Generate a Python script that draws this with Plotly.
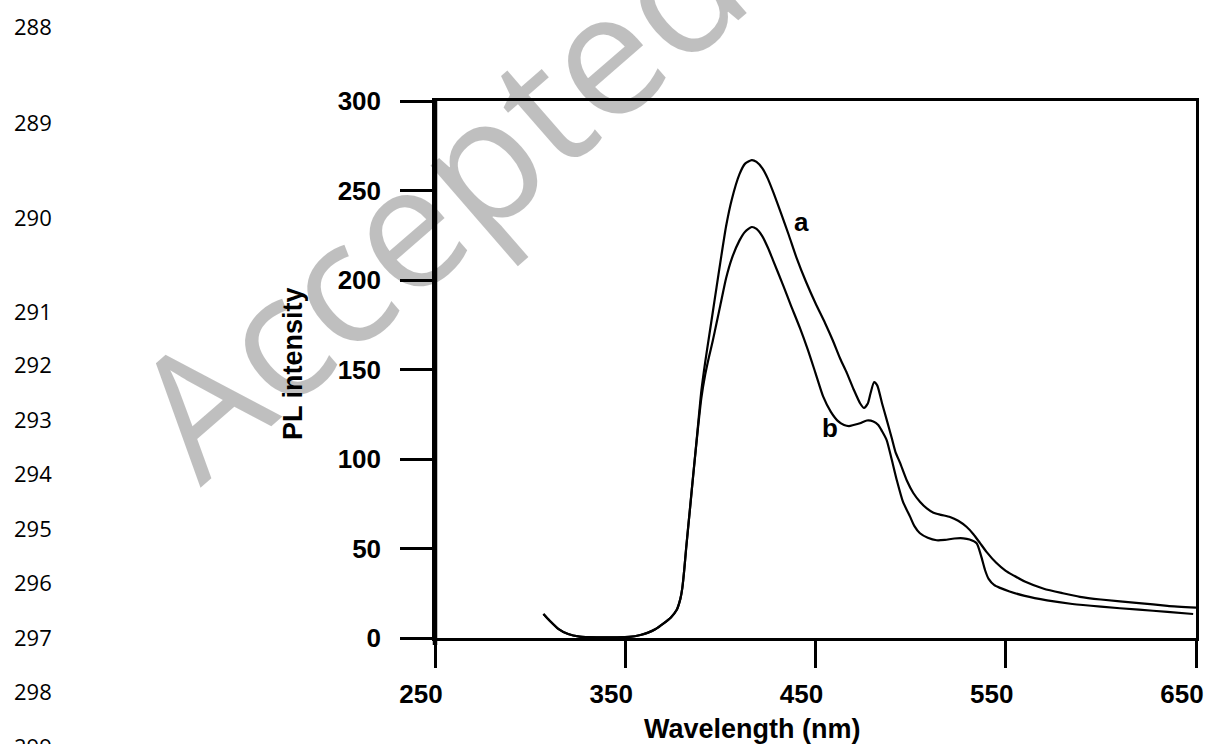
import plotly.graph_objects as go

# ---------------- data ----------------
wl_a = [307, 310, 315, 320, 326, 335, 345, 352, 358, 362, 366, 370, 374, 377, 379, 380, 381, 382, 384, 386, 388,
        390, 392, 394, 396, 398, 400, 403, 406, 410, 413, 416.5, 419, 422, 425, 428, 432, 436, 440, 445, 450,
        455, 459, 463, 466.5, 470, 473.5, 475.5, 477.5, 479, 480.8, 482.5, 485, 487.4, 490, 492, 494.4, 498,
        501.4, 505, 508.5, 512, 516, 520.7, 525, 529.5, 533, 536.5, 540, 545, 550, 554, 560, 570, 580, 589,
        600, 620, 635, 650]
pl_a = [13.4, 10, 5, 2.2, 0.8, 0.4, 0.4, 0.6, 1.7, 3, 5, 8, 11.5, 15.6, 22, 28, 38, 50, 72, 94, 116,
        138, 154, 168, 182, 196, 210, 230, 245, 259, 265, 267, 266, 262.5, 256.5, 248.5, 237, 225, 212.5, 199, 187,
        176, 166.5, 156, 148, 139, 131, 128.5, 131, 137, 143, 141, 131, 122, 112, 104, 98, 88,
        81, 76, 72.4, 70, 68.8, 67.6, 65.5, 62, 58, 53, 48, 42, 37.5, 35, 31.5, 27.5, 25, 23,
        21.5, 19.5, 18, 17]

wl_b = [307, 310, 315, 320, 326, 335, 345, 352, 358, 362, 366, 370, 374, 377, 379, 380, 381, 382, 384, 386, 388,
        390, 392, 394, 396, 398, 400, 403, 406, 410, 413, 416.5, 419, 422, 425, 427.7, 433, 437, 441.9, 446, 450,
        454, 458, 462, 465, 467.6, 470, 473.4, 477, 480.4, 483, 485, 487.4, 490, 492.7, 496, 499.7, 502,
        504.9, 509, 513.7, 518, 523, 527.7, 531, 534.7, 537, 539.1, 541, 544, 547, 552, 560, 571.7, 585,
        600, 620, 635, 648.5]
pl_b = [13.4, 10, 5, 2.2, 0.8, 0.4, 0.4, 0.6, 1.7, 3, 5, 8, 11.5, 15.6, 22, 28, 38, 50, 72, 94, 115,
        134, 147, 157, 166, 176, 186, 201, 212, 222, 227, 229.6, 228.5, 224.5, 218, 211, 197, 186, 173, 161, 148,
        135, 126.5, 121, 119, 118.4, 119, 120, 121.5, 121, 119, 115.5, 110.6, 100, 88.3, 76, 67.8, 62.5,
        58.5, 56, 54.6, 54.8, 55.6, 55.7, 55, 52.9, 46, 38, 33, 29.5, 28, 26, 23.5, 21, 19,
        17.5, 15.8, 14.6, 13.4]

x_ticks = [250, 350, 450, 550, 650]
y_ticks = [0, 50, 100, 150, 200, 250, 300]
curve_labels = ["a", "b"]
curve_label_pos = [(442.9, 232.4), (457.6, 117.3)]
line_numbers = ["288", "289", "290", "291", "292", "293", "294", "295", "296", "297", "298", "299"]
line_number_px = [26, 122, 217, 311, 364, 418.5, 473, 527.5, 582, 636.5, 691, 745.5]

# ---------------- figure ----------------
W, H = 1211, 744
L, R, T, B = 435, 15, 101, 106
pw, ph = W - L - R, H - T - B


def px_x(p):
    return (p - L) / pw


def px_y(p):
    return (H - B - p) / ph


fig = go.Figure()
for wl, pl in ((wl_a, pl_a), (wl_b, pl_b)):
    fig.add_trace(go.Scatter(x=wl, y=pl, mode="lines",
                             line=dict(color="black", width=2.2, shape="spline", smoothing=0.6),
                             showlegend=False, hoverinfo="skip"))

tickfont = dict(family="Liberation Sans, Arial", size=26, color="black", weight="bold")
fig.update_xaxes(range=[250, 650], tickvals=x_ticks, ticks="outside", ticklen=27, tickwidth=2.5,
                 tickcolor="black", showline=True, linewidth=2.5, linecolor="black", mirror=True,
                 showgrid=False, zeroline=False, tickfont=tickfont,
                 ticklabelshift=-14, ticklabelstandoff=4)
fig.update_yaxes(range=[0, 300], tickvals=y_ticks, ticks="outside", ticklen=32, tickwidth=2.5,
                 tickcolor="black", showline=True, linewidth=2.5, linecolor="black", mirror=True,
                 showgrid=False, zeroline=False, tickfont=tickfont, ticklabelstandoff=14)

# thicker left spine
fig.add_shape(type="line", xref="paper", yref="paper", x0=0, x1=0, y0=px_y(645), y1=1,
              line=dict(color="black", width=4.5), layer="above")

ann = []
# watermark
ann.append(dict(text="Accepted", xref="paper", yref="paper", x=px_x(435), y=px_y(195),
                xanchor="center", yanchor="middle", showarrow=False, textangle=-41,
                font=dict(family="Open Sans", size=172, color="rgba(0,0,0,0.25)")))
# axis titles
ann.append(dict(text="Wavelength (nm)", xref="paper", yref="paper", x=px_x(752), y=px_y(729),
                xanchor="center", yanchor="middle", showarrow=False,
                font=dict(family="Liberation Sans, Arial", size=27, color="black", weight="bold")))
ann.append(dict(text="PL intensity", xref="paper", yref="paper", x=px_x(293), y=px_y(364),
                xanchor="center", yanchor="middle", showarrow=False, textangle=-90,
                font=dict(family="Liberation Sans, Arial", size=27, color="black", weight="bold")))
# curve labels
for lab, (xv, yv) in zip(curve_labels, curve_label_pos):
    ann.append(dict(text=lab, x=xv, y=yv, xref="x", yref="y", showarrow=False,
                    xanchor="center", yanchor="middle",
                    font=dict(family="Liberation Sans, Arial", size=26, color="black", weight="bold")))
# line numbers
for t, p in zip(line_numbers, line_number_px):
    ann.append(dict(text=t, xref="paper", yref="paper", x=px_x(12), y=px_y(p), xanchor="left",
                    yanchor="middle", showarrow=False,
                    font=dict(family="Open Sans", size=22, color="black")))

fig.update_layout(width=W, height=H, margin=dict(l=L, r=R, t=T, b=B, autoexpand=False),
                  paper_bgcolor="white", plot_bgcolor="white", annotations=ann)

fig.write_html("out.html", config={"displayModeBar": False},
               post_script="document.body.style.margin='0px';document.body.style.overflow='hidden';")
